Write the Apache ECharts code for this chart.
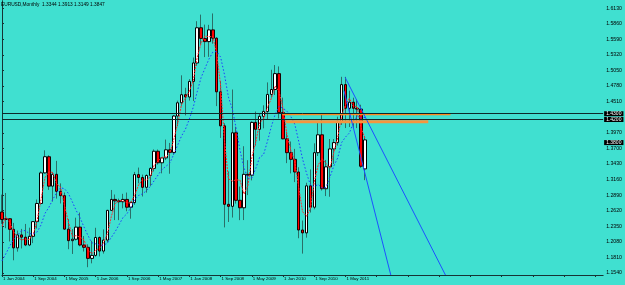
<!DOCTYPE html>
<html style="height: 100%">
<head>
    <meta charset="utf-8">
</head>
<body style="height: 100%; margin: 0; background: #40e0d0">
<div id="container" style="width: 625px; height: 285px;"></div>

<script type="text/javascript" src="https://cdn.jsdelivr.net/npm/echarts@6/dist/echarts.min.js"></script>
<script type="text/javascript">
    // EURUSD monthly, Jan 2004 .. Oct 2011
    var months = [
        'Jan 2004','Feb 2004','Mar 2004','Apr 2004','May 2004','Jun 2004','Jul 2004','Aug 2004','Sep 2004','Oct 2004','Nov 2004','Dec 2004',
        'Jan 2005','Feb 2005','Mar 2005','Apr 2005','May 2005','Jun 2005','Jul 2005','Aug 2005','Sep 2005','Oct 2005','Nov 2005','Dec 2005',
        'Jan 2006','Feb 2006','Mar 2006','Apr 2006','May 2006','Jun 2006','Jul 2006','Aug 2006','Sep 2006','Oct 2006','Nov 2006','Dec 2006',
        'Jan 2007','Feb 2007','Mar 2007','Apr 2007','May 2007','Jun 2007','Jul 2007','Aug 2007','Sep 2007','Oct 2007','Nov 2007','Dec 2007',
        'Jan 2008','Feb 2008','Mar 2008','Apr 2008','May 2008','Jun 2008','Jul 2008','Aug 2008','Sep 2008','Oct 2008','Nov 2008','Dec 2008',
        'Jan 2009','Feb 2009','Mar 2009','Apr 2009','May 2009','Jun 2009','Jul 2009','Aug 2009','Sep 2009','Oct 2009','Nov 2009','Dec 2009',
        'Jan 2010','Feb 2010','Mar 2010','Apr 2010','May 2010','Jun 2010','Jul 2010','Aug 2010','Sep 2010','Oct 2010','Nov 2010','Dec 2010',
        'Jan 2011','Feb 2011','Mar 2011','Apr 2011','May 2011','Jun 2011','Jul 2011','Aug 2011','Sep 2011','Oct 2011'
    ];

    var open = [
        1.2597,1.2467,1.2480,1.2297,1.1975,1.2200,1.2160,1.2025,1.2175,1.2430,1.2745,1.3275,
        1.3555,1.3045,1.3250,1.2955,1.2880,1.2300,1.2100,1.2125,1.2335,1.2025,1.1985,1.1793,
        1.1845,1.2155,1.1920,1.2110,1.2625,1.2815,1.2790,1.2775,1.2815,1.2680,1.2760,1.3245,
        1.3195,1.3025,1.3230,1.3353,1.3650,1.3450,1.3535,1.3675,1.3630,1.4260,1.4490,1.4630,
        1.4590,1.4860,1.5180,1.5790,1.5605,1.5550,1.5753,1.5610,1.4680,1.4090,1.2730,1.2695,
        1.3970,1.2800,1.2670,1.3250,1.3235,1.4150,1.4030,1.4255,1.4340,1.4635,1.4720,1.4995,
        1.4320,1.3865,1.3625,1.3510,1.3290,1.2285,1.2235,1.3050,1.2680,1.3625,1.3935,1.3000,
        1.3380,1.3690,1.3800,1.4165,1.4805,1.4395,1.4500,1.4395,1.4380,1.3344
    ];
    var high = [
        1.2898,1.2927,1.2483,1.2408,1.2275,1.2304,1.2390,1.2325,1.2435,1.2813,1.3302,1.3666,
        1.3580,1.3287,1.3483,1.3093,1.2935,1.2475,1.2300,1.2498,1.2587,1.2180,1.2037,1.2097,
        1.2323,1.2175,1.2295,1.2635,1.2979,1.2900,1.2828,1.2912,1.2934,1.2779,1.3292,1.3367,
        1.3245,1.3250,1.3373,1.3682,1.3680,1.3547,1.3852,1.3794,1.4278,1.4527,1.4966,1.4750,
        1.4900,1.5275,1.5904,1.6018,1.5845,1.5841,1.6038,1.5625,1.4867,1.4134,1.3300,1.4720,
        1.4075,1.3038,1.3737,1.3495,1.4168,1.4338,1.4299,1.4446,1.4843,1.5062,1.5144,1.5120,
        1.4579,1.3990,1.3819,1.3691,1.3373,1.2449,1.3104,1.3334,1.3787,1.4157,1.4282,1.3500,
        1.3862,1.3862,1.4249,1.4940,1.4939,1.4700,1.4578,1.4548,1.4456,1.3913
    ];
    var low = [
        1.2391,1.2316,1.2086,1.1760,1.1910,1.1965,1.2005,1.2005,1.2058,1.2309,1.2725,1.3263,
        1.2980,1.2778,1.2830,1.2745,1.2290,1.1952,1.1870,1.2104,1.2003,1.1912,1.1640,1.1707,
        1.1822,1.1827,1.1876,1.2068,1.2615,1.2457,1.2456,1.2660,1.2610,1.2481,1.2723,1.3095,
        1.2866,1.2933,1.3050,1.3300,1.3418,1.3267,1.3497,1.3260,1.3590,1.4085,1.4440,1.4272,
        1.4528,1.4520,1.5130,1.5500,1.5282,1.5286,1.5514,1.4432,1.3881,1.2330,1.2424,1.2501,
        1.2743,1.2456,1.2457,1.2890,1.3145,1.3748,1.3833,1.4047,1.4201,1.4581,1.4625,1.4218,
        1.3857,1.3444,1.3266,1.3115,1.2142,1.1876,1.2152,1.2588,1.2644,1.3567,1.2969,1.2873,
        1.2861,1.3430,1.3748,1.4107,1.4052,1.4070,1.4050,1.4051,1.3362,1.3149
    ];
    var close = [
        1.2467,1.2480,1.2297,1.1975,1.2200,1.2160,1.2025,1.2175,1.2430,1.2745,1.3275,1.3555,
        1.3045,1.3250,1.2955,1.2880,1.2300,1.2100,1.2125,1.2335,1.2025,1.1985,1.1793,1.1845,
        1.2155,1.1920,1.2110,1.2625,1.2815,1.2790,1.2775,1.2815,1.2680,1.2760,1.3245,1.3195,
        1.3025,1.3230,1.3353,1.3650,1.3450,1.3535,1.3675,1.3630,1.4260,1.4490,1.4630,1.4590,
        1.4860,1.5180,1.5790,1.5605,1.5550,1.5753,1.5610,1.4680,1.4090,1.2730,1.2695,1.3970,
        1.2800,1.2670,1.3250,1.3235,1.4150,1.4030,1.4255,1.4340,1.4635,1.4720,1.4995,1.4320,
        1.3865,1.3625,1.3510,1.3290,1.2285,1.2235,1.3050,1.2680,1.3625,1.3935,1.3000,1.3380,
        1.3690,1.3800,1.4165,1.4805,1.4395,1.4500,1.4395,1.4380,1.3390,1.3847
    ];

    // red dotted (fast) and blue dotted (slow) moving averages
    var fastMA = [
        1.2350,1.2514,1.2415,1.2251,1.2157,1.2112,1.2128,1.2120,1.2210,1.2450,1.2817,1.3192,
        1.3292,1.3283,1.3083,1.3028,1.2712,1.2427,1.2175,1.2187,1.2162,1.2115,1.1934,1.1874,
        1.1931,1.1973,1.2062,1.2218,1.2517,1.2743,1.2793,1.2793,1.2757,1.2752,1.2895,1.3067,
        1.3155,1.3150,1.3203,1.3411,1.3484,1.3545,1.3553,1.3613,1.3855,1.4127,1.4460,1.4570,
        1.4693,1.4877,1.5277,1.5525,1.5648,1.5636,1.5638,1.5348,1.4793,1.3833,1.3172,1.3132,
        1.3155,1.3147,1.2907,1.3052,1.3545,1.3805,1.4145,1.4208,1.4410,1.4565,1.4783,1.4678,
        1.4393,1.3937,1.3667,1.3475,1.3028,1.2603,1.2523,1.2655,1.3118,1.3413,1.3520,1.3438,
        1.3357,1.3623,1.3885,1.4257,1.4455,1.4567,1.4430,1.4425,1.4055,1.3872
    ];
    var slowMA = [
        1.1751,1.1875,1.2007,1.2131,1.2199,1.2271,1.2275,1.2222,1.2218,1.2251,1.2373,1.2571,
        1.2676,1.2813,1.2929,1.3017,1.3001,1.2920,1.2776,1.2624,1.2496,1.2338,1.2193,1.2064,
        1.2045,1.2023,1.2021,1.2057,1.2156,1.2257,1.2379,1.2501,1.2566,1.2671,1.2813,1.2884,
        1.2911,1.2966,1.3038,1.3142,1.3239,1.3335,1.3389,1.3444,1.3598,1.3755,1.3915,1.4033,
        1.4209,1.4414,1.4679,1.4926,1.5087,1.5245,1.5367,1.5379,1.5282,1.4976,1.4589,1.4385,
        1.4041,1.3656,1.3361,1.3180,1.3188,1.3350,1.3545,1.3591,1.3821,1.4077,1.4295,1.4431,
        1.4395,1.4344,1.4251,1.4120,1.3826,1.3516,1.3273,1.3068,1.3038,1.3076,1.3013,1.3024,
        1.3199,1.3395,1.3534,1.3800,1.3896,1.3967,1.4141,1.4266,1.4229,1.4235
    ];

    var yTicks = [1.1540,1.1810,1.2080,1.2350,1.2620,1.2890,1.3160,1.3430,1.3700,1.3970,
                  1.4510,1.4780,1.5050,1.5320,1.5590,1.5860,1.6130];
    var levelLines = [1.4260, 1.4150];
    var lastPrice = 1.3847;
    var title = 'EURUSD,Monthly  1.3344 1.3913 1.3149 1.3847';

    // drawn objects: [bar index, price] end points
    var orangeTop = [[71.8, 1.4290], [114.9, 1.4290]];
    var orangeLow = [[72.7, 1.4162], [109.2, 1.4162]];
    var trendA = [[87.9, 1.4930], [113.6, 1.1505]];
    var trendB = [[87.6, 1.4700], [99.6, 1.1505]];

    var totalSlots = 155; // chart is shifted, empty space on the right
    var categories = months.slice();
    while (categories.length < totalSlots) categories.push('');

    var wickData = open.map(function (o, i) { return [o, close[i], low[i], high[i]]; });
    var bodyData = open.map(function (o, i) {
        return [o, close[i], Math.min(o, close[i]), Math.max(o, close[i])];
    });

    var dom = document.getElementById("container");
    var myChart = echarts.init(dom);
    var axisColor = '#163434';
    var font = 'Liberation Sans';

    var option = {
        animation: false,
        backgroundColor: '#40e0d0',
        textStyle: { fontFamily: font },
        title: {
            text: title,
            left: 1,
            top: 2,
            padding: 0,
            textStyle: { fontSize: 4.8, fontWeight: 'normal', color: '#000', fontFamily: font }
        },
        grid: { left: 1, right: 21, top: 1, bottom: 10, containLabel: false },
        xAxis: [{
            type: 'category',
            data: categories,
            boundaryGap: false,
            axisLine: { lineStyle: { color: axisColor, width: 1 } },
            axisTick: { show: true, interval: 7, length: 2, lineStyle: { color: axisColor } },
            axisLabel: {
                interval: 7,
                align: 'left',
                margin: 2,
                padding: [0, 0, 0, 1],
                fontSize: 4.4,
                color: '#000',
                fontFamily: font,
                formatter: function (v) { return v ? '1 ' + v : ''; }
            },
            splitLine: { show: false }
        }, {
            type: 'value',
            min: 0,
            max: totalSlots - 1,
            show: false
        }],
        yAxis: [{
            type: 'value',
            position: 'right',
            min: 1.1505,
            max: 1.6254,
            scale: true,
            axisLine: { show: true, lineStyle: { color: axisColor, width: 1 } },
            axisTick: { show: true, length: 2, customValues: yTicks, lineStyle: { color: axisColor } },
            axisLabel: {
                customValues: yTicks,
                margin: 3,
                fontSize: 5.2,
                color: '#000',
                fontFamily: font,
                formatter: function (v) { return v.toFixed(4); }
            },
            splitLine: { show: false }
        }, {
            type: 'value',
            position: 'left',
            min: 1.1505,
            max: 1.6254,
            axisLine: { show: true, lineStyle: { color: axisColor, width: 1 } },
            axisTick: { show: false },
            axisLabel: { show: false },
            splitLine: { show: false }
        }],
        series: [{
            name: 'wicks',
            type: 'candlestick',
            data: wickData,
            barWidth: 1,
            silent: true,
            itemStyle: {
                color: '#2a6f68', color0: '#2a6f68',
                borderColor: '#2a6f68', borderColor0: '#2a6f68', borderWidth: 1
            }
        }, {
            name: 'bodies',
            type: 'candlestick',
            data: bodyData,
            barWidth: 3,
            silent: true,
            itemStyle: {
                color: '#ffffff', color0: '#ff0000',
                borderColor: '#000000', borderColor0: '#1a0000', borderWidth: 1
            },
            markLine: {
                silent: true,
                symbol: ['none', 'none'],
                lineStyle: { color: '#0c2a2a', width: 1, type: 'solid' },
                label: {
                    position: 'end',
                    distance: 1,
                    formatter: function (p) { return p.value.toFixed(4); },
                    backgroundColor: '#000',
                    color: '#fff',
                    fontSize: 5,
                    lineHeight: 5,
                    fontFamily: font,
                    padding: [0, 2, 0, 2]
                },
                data: [
                    { yAxis: levelLines[0] },
                    { yAxis: levelLines[1] },
                    { yAxis: lastPrice, lineStyle: { color: 'rgba(0,0,0,0)' } }
                ]
            }
        }, {
            name: 'fast',
            type: 'line',
            data: fastMA,
            symbol: 'none',
            silent: true,
            lineStyle: { color: '#ff2a2a', width: 1, type: [2, 1] }
        }, {
            name: 'slow',
            type: 'line',
            data: slowMA,
            symbol: 'none',
            silent: true,
            lineStyle: { color: '#1e3cff', width: 1, type: [1.5, 2] }
        }, {
            type: 'line', xAxisIndex: 1, data: orangeTop, symbol: 'none', silent: true,
            lineStyle: { color: '#ff8a1c', width: 2 }
        }, {
            type: 'line', xAxisIndex: 1, data: orangeLow, symbol: 'none', silent: true,
            lineStyle: { color: '#f5963f', width: 3 }
        }, {
            type: 'line', xAxisIndex: 1, data: trendA, symbol: 'none', silent: true,
            lineStyle: { color: '#1e50ff', width: 1 }
        }, {
            type: 'line', xAxisIndex: 1, data: trendB, symbol: 'none', silent: true,
            lineStyle: { color: '#1e50ff', width: 1 }
        }]
    };

    myChart.setOption(option);
</script>
</body>
</html>
